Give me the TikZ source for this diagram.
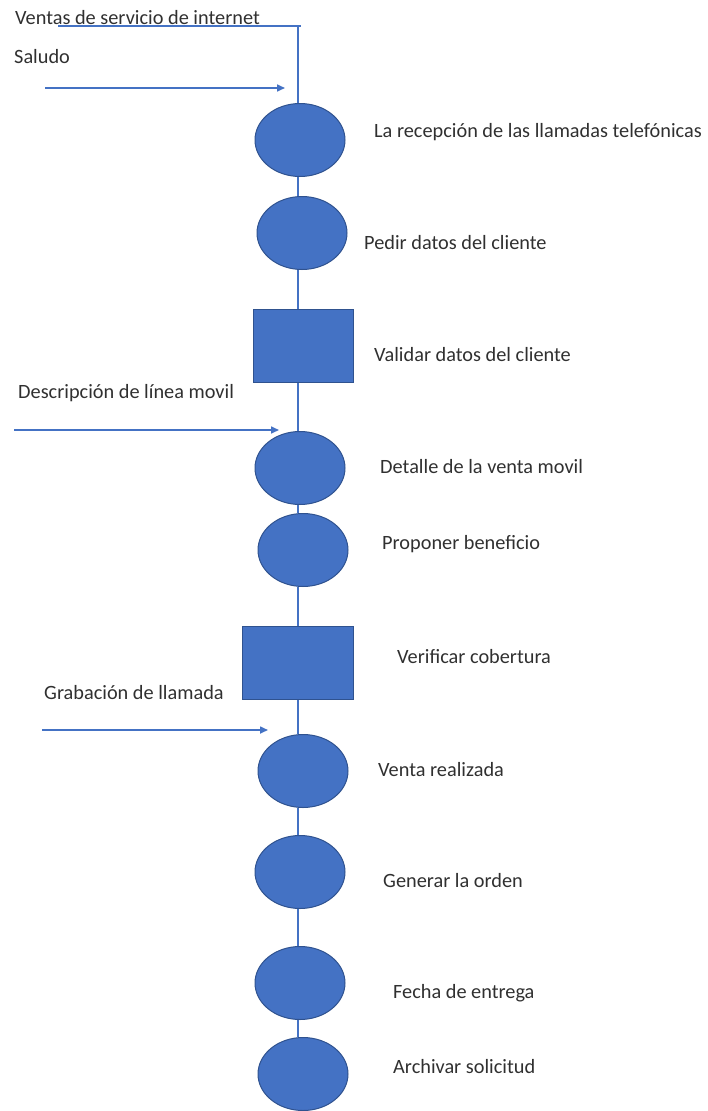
\documentclass[tikz,border=0pt]{standalone}
\usepackage{fontspec}
\setmainfont{Carlito}
\usetikzlibrary{shapes.geometric,arrows.meta}
\definecolor{bfill}{HTML}{4472C4}
\definecolor{bdraw}{HTML}{2F528F}
\definecolor{txt}{HTML}{303030}
\tikzset{
  oval/.style={ellipse,fill=bfill,draw=bdraw,line width=1pt,minimum width=90pt,minimum height=73pt,inner sep=0pt},
  boxnode/.style={rectangle,fill=bfill,draw=bdraw,line width=1pt,minimum height=73pt,inner sep=0pt},
  lbl/.style={anchor=west,text=txt,font=\fontsize{20.3pt}{24pt}\selectfont,inner sep=0pt},
  conn/.style={draw=bfill,line width=1.6pt},
  arr/.style={draw=bfill,line width=1.6pt,-{Triangle[length=8pt,width=7pt]}}
}
\begin{document}
\begin{tikzpicture}[x=1pt,y=-1pt]
\useasboundingbox (0,0) rectangle (708,1111);
\coordinate (spine) at (298,0);
% shapes
\node[oval] (e1) at (300,140) {};
\node[oval] (e2) at (302,233) {};
\node[boxnode,minimum width=100pt] (r1) at (303,346) {};
\node[oval] (e3) at (300,468) {};
\node[oval] (e4) at (303,550) {};
\node[boxnode,minimum width=111pt] (r2) at (297.5,663) {};
\node[oval] (e5) at (303,771) {};
\node[oval] (e6) at (300,872) {};
\node[oval] (e7) at (300,983) {};
\node[oval] (e8) at (303,1074) {};
% labels
\node[lbl] (t0) at (15,18) {Ventas de servicio de internet};
\node[lbl] (t1) at (14,57) {Saludo};
\node[lbl] (l1) at (374,132) {La recepción de las llamadas telefónicas};
\node[lbl] (l2) at (364,243) {Pedir datos del cliente};
\node[lbl] (l3) at (374,355) {Validar datos del cliente};
\node[lbl] (t2) at (18,393) {Descripción de línea movil};
\node[lbl] (l4) at (380,467) {Detalle de la venta movil};
\node[lbl] (l5) at (382,544) {Proponer beneficio};
\node[lbl] (l6) at (397,657) {Verificar cobertura};
\node[lbl] (t3) at (44,693) {Grabación de llamada};
\node[lbl] (l7) at (378,770) {Venta realizada};
\node[lbl] (l8) at (383,881) {Generar la orden};
\node[lbl] (l9) at (393,993) {Fecha de entrega};
\node[lbl] (l10) at (393,1067) {Archivar solicitud};
% top line
\coordinate (tl) at (58,26);
\coordinate (tr) at (298,26);
\coordinate (tre) at (301,26);
\draw[conn] (tl) -- (tre);
\draw[conn] (tr) -- (e1.north -| spine);
% spine connectors
\draw[conn] (e1.south -| spine) -- (e2.north -| spine);
\draw[conn] (e2.south -| spine) -- (r1.north -| spine);
\draw[conn] (r1.south -| spine) -- (e3.north -| spine);
\draw[conn] (e3.south -| spine) -- (e4.north -| spine);
\draw[conn] (e4.south -| spine) -- (r2.north -| spine);
\draw[conn] (r2.south -| spine) -- (e5.north -| spine);
\draw[conn] (e5.south -| spine) -- (e6.north -| spine);
\draw[conn] (e6.south -| spine) -- (e7.north -| spine);
\draw[conn] (e7.south -| spine) -- (e8.north -| spine);
% input arrows
\coordinate (a1s) at (45,88);
\coordinate (a1e) at (285,88);
\draw[arr] (a1s) -- (a1e);
\coordinate (a2s) at (14,430);
\coordinate (a2e) at (279,430);
\draw[arr] (a2s) -- (a2e);
\coordinate (a3s) at (42,730);
\coordinate (a3e) at (268,730);
\draw[arr] (a3s) -- (a3e);
\end{tikzpicture}
\end{document}
